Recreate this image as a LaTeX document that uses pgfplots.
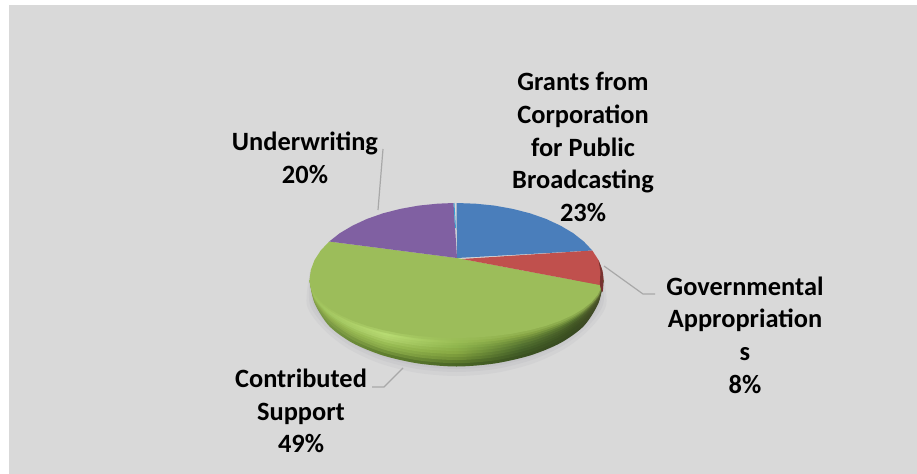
\documentclass[border=0pt]{standalone}
\usepackage{fontspec}
\setmainfont{Carlito}
\usepackage{pgfplots}
\pgfplotsset{compat=1.18}

\definecolor{panel}{HTML}{D9D9D9}
\definecolor{leader}{HTML}{A8A8A8}
\definecolor{pieblue}{HTML}{4A7EBB}
\definecolor{piered}{HTML}{C0504D}
\definecolor{piegreen}{HTML}{9CBD5A}
\definecolor{piepurple}{HTML}{8060A2}
\definecolor{shadow}{HTML}{BEBEC4}

% rim shadings, path width is mapped on 25bp..75bp
\pgfdeclarehorizontalshading{rimA}{100bp}{rgb(0bp)=(0.49,0.61,0.28); rgb(25bp)=(0.49,0.61,0.28); rgb(38bp)=(0.37,0.49,0.18); rgb(50bp)=(0.29,0.40,0.15); rgb(61bp)=(0.23,0.32,0.13); rgb(70bp)=(0.22,0.29,0.13); rgb(75bp)=(0.27,0.29,0.16); rgb(100bp)=(0.27,0.29,0.16)}
\pgfdeclarehorizontalshading{rimB}{100bp}{rgb(0bp)=(0.55,0.66,0.30); rgb(25bp)=(0.55,0.66,0.30); rgb(38bp)=(0.53,0.66,0.28); rgb(50bp)=(0.44,0.56,0.21); rgb(61bp)=(0.27,0.38,0.16); rgb(70bp)=(0.24,0.32,0.13); rgb(75bp)=(0.29,0.31,0.16); rgb(100bp)=(0.29,0.31,0.16)}
\pgfdeclarehorizontalshading{rimC}{100bp}{rgb(0bp)=(0.59,0.71,0.32); rgb(25bp)=(0.59,0.71,0.32); rgb(38bp)=(0.60,0.74,0.33); rgb(50bp)=(0.53,0.66,0.26); rgb(61bp)=(0.33,0.45,0.19); rgb(70bp)=(0.27,0.35,0.15); rgb(75bp)=(0.30,0.33,0.17); rgb(100bp)=(0.30,0.33,0.17)}
\pgfdeclarehorizontalshading{rimD}{100bp}{rgb(0bp)=(0.62,0.77,0.37); rgb(25bp)=(0.62,0.77,0.37); rgb(38bp)=(0.69,0.82,0.42); rgb(50bp)=(0.56,0.71,0.30); rgb(61bp)=(0.42,0.54,0.22); rgb(70bp)=(0.33,0.44,0.18); rgb(75bp)=(0.33,0.36,0.18); rgb(100bp)=(0.33,0.36,0.18)}
\pgfdeclarehorizontalshading{rimE}{100bp}{rgb(0bp)=(0.63,0.76,0.36); rgb(25bp)=(0.63,0.76,0.36); rgb(38bp)=(0.72,0.86,0.45); rgb(50bp)=(0.60,0.74,0.33); rgb(61bp)=(0.53,0.65,0.27); rgb(70bp)=(0.48,0.60,0.26); rgb(75bp)=(0.40,0.45,0.22); rgb(100bp)=(0.40,0.45,0.22)}

\begin{document}
\begin{tikzpicture}
\begin{axis}[
  scale only axis, width=917bp, height=474bp,
  xmin=0, xmax=917, ymin=0, ymax=474, y dir=reverse,
  hide axis, clip=false, no markers]

% page and panel
\addplot[fill=white, draw=none] coordinates {(0,0) (917,0) (917,474) (0,474)} --cycle;
\addplot[fill=panel, draw=none] coordinates {(9,5) (917,5) (917,474) (9,474)} --cycle;

% soft shadow
\addplot[fill=shadow, fill opacity=.25, draw=none, smooth] coordinates {(310,272) (306.8,304.9) (322.3,328) (346.9,347.9) (379,363.1) (416.4,372.7) (456.5,376) (496.6,372.7) (534,363.1) (566.1,347.9) (590.7,328) (606.2,304.9) (603,272)} --cycle;
\addplot[fill=shadow, fill opacity=.35, draw=none, smooth] coordinates {(310,272) (309.7,303.8) (324.9,326) (349,345) (380.5,359.7) (417.1,368.9) (456.5,372) (495.9,368.9) (532.5,359.7) (564,345) (588.1,326) (603.3,303.8) (603,272)} --cycle;
\addplot[fill=shadow, fill opacity=.45, draw=none, smooth] coordinates {(310,272) (312.6,303) (327.5,324.5) (351.1,342.9) (382,357.1) (417.9,366) (456.5,369) (495.1,366) (531,357.1) (561.9,342.9) (586,324.5) (600.4,303) (603,272)} --cycle;

% rim, from the outer edge inwards, a half-transparent step between two bands
\addplot[shading=rimA, draw=none, smooth] coordinates {(309.5,280) (314.5,303) (329.2,326) (352.6,343) (383,355.5) (418.5,363.5) (456.5,366.5) (494.5,363.5) (530,355.5) (560.4,343) (583.8,326) (598.5,303) (603.5,280)} --cycle;
\addplot[shading=rimB, fill opacity=.5, draw=none, smooth] coordinates {(309.5,280) (314.5,301.9) (329.2,323) (352.6,339.8) (383,352.4) (418.5,360.4) (456.5,363.2) (494.5,360.4) (530,352.4) (560.4,339.8) (583.8,323) (598.5,301.9) (603.5,280)} --cycle;
\addplot[shading=rimB, draw=none, smooth] coordinates {(309.5,280) (314.5,300.7) (329.2,320) (352.6,336.6) (383,349.3) (418.5,357.3) (456.5,360) (494.5,357.3) (530,349.3) (560.4,336.6) (583.8,320) (598.5,300.7) (603.5,280)} --cycle;
\addplot[shading=rimC, fill opacity=.5, draw=none, smooth] coordinates {(309.5,280) (314.5,300) (329.2,318.5) (352.6,334.5) (383,346.7) (418.5,354.4) (456.5,357) (494.5,354.4) (530,346.7) (560.4,334.5) (583.8,318.5) (598.5,300) (603.5,280)} --cycle;
\addplot[shading=rimC, draw=none, smooth] coordinates {(309.5,280) (314.5,299.2) (329.2,317) (352.6,332.3) (383,344.1) (418.5,351.5) (456.5,354) (494.5,351.5) (530,344.1) (560.4,332.3) (583.8,317) (598.5,299.2) (603.5,280)} --cycle;
\addplot[shading=rimD, fill opacity=.5, draw=none, smooth] coordinates {(309.5,280) (314.5,298.4) (329.2,315.5) (352.6,330.2) (383,341.5) (418.5,348.6) (456.5,351) (494.5,348.6) (530,341.5) (560.4,330.2) (583.8,315.5) (598.5,298.4) (603.5,280)} --cycle;
\addplot[shading=rimD, draw=none, smooth] coordinates {(309.5,280) (314.5,297.6) (329.2,314) (352.6,328.1) (383,338.9) (418.5,345.7) (456.5,348) (494.5,345.7) (530,338.9) (560.4,328.1) (583.8,314) (598.5,297.6) (603.5,280)} --cycle;
\addplot[shading=rimE, fill opacity=.5, draw=none, smooth] coordinates {(309.5,280) (314.5,297) (329.2,312.8) (352.6,326.3) (383,336.8) (418.5,343.3) (456.5,345.5) (494.5,343.3) (530,336.8) (560.4,326.3) (583.8,312.8) (598.5,297) (603.5,280)} --cycle;
\addplot[shading=rimE, draw=none, smooth] coordinates {(309.5,280) (314.5,296.3) (329.2,311.5) (352.6,324.5) (383,334.6) (418.5,340.9) (456.5,343) (494.5,340.9) (530,334.6) (560.4,324.5) (583.8,311.5) (598.5,296.3) (603.5,280)} --cycle;
\addplot[fill=piegreen, fill opacity=.5, draw=none, smooth] coordinates {(309.5,280) (314.5,295.7) (329.2,310.3) (352.6,322.8) (383,332.4) (418.5,338.5) (456.5,340.5) (494.5,338.5) (530,332.4) (560.4,322.8) (583.8,310.3) (598.5,295.7) (603.5,280)} --cycle;

% top face: Contributed Support
\addplot[fill=piegreen, draw=none] coordinates {(457,258) (600,285) (601.2,287.6) (597.5,295) (591.4,302.2) (582.9,309) (572.3,315.3) (559.7,321) (545.4,326) (529.5,330.2) (512.4,333.6) (494.3,336) (475.6,337.5) (456.5,338) (437.4,337.5) (418.7,336) (400.6,333.6) (383.5,330.2) (367.6,326) (353.3,321) (340.7,315.3) (330.1,309) (321.6,302.2) (315.5,295) (311.8,287.6) (309.5,280) (310.8,270) (314.5,260.1) (320.7,250.5) (329.2,241.5)} --cycle;
% Grants from Corporation for Public Broadcasting
\addplot[fill=pieblue, draw=none] coordinates {(457,258) (456.5,203) (475.7,203.7) (494.5,205.6) (512.8,208.9) (530,213.3) (546,218.9) (560.4,225.6) (573.1,233.1) (583.8,241.5) (592.3,250.5)} --cycle;
% Governmental Appropriations
\addplot[fill=piered, draw=none] coordinates {(462,259) (592.3,250.5) (598.5,260.1) (602.2,270) (603.5,280) (600,285)} --cycle;
\addplot[fill=piered!62!black, draw=none, smooth] coordinates {(598.5,260.1) (602.2,270) (603.5,280) (602.5,292) (600,285) (600.5,272)} --cycle;
% Underwriting
\addplot[fill=piepurple, draw=none] coordinates {(457,258) (329.2,241.5) (339.9,233.1) (352.6,225.6) (367,218.9) (383,213.3) (400.2,208.9) (418.5,205.6) (437.3,203.7) (453.5,203)} --cycle;
% seam between purple and blue
\addplot[draw=cyan!60!pieblue, line width=.9bp] coordinates {(454,203) (455.5,228)};

% leader lines
\addplot[draw=leader, line width=1.2bp] coordinates {(604,266) (643,294) (655,294)};
\addplot[draw=leader, line width=1.2bp] coordinates {(403,368) (384,387) (372,387)};
\addplot[draw=leader, line width=1.2bp] coordinates {(383,149) (378,210)};

\tikzset{lbl/.style={align=center, inner sep=0pt, font=\bfseries\fontsize{26.5}{32.7}\selectfont}}
\node[lbl] at (axis cs:583,147) {Grants from\\Corporation\\for Public\\Broadcasting\\23\%};
\node[lbl] at (axis cs:745,335) {Governmental\\Appropriation\\s\\8\%};
\node[lbl] at (axis cs:301,411) {Contributed\\Support\\49\%};
\node[lbl] at (axis cs:305,158) {Underwriting\\20\%};
\end{axis}
\end{tikzpicture}
\end{document}
